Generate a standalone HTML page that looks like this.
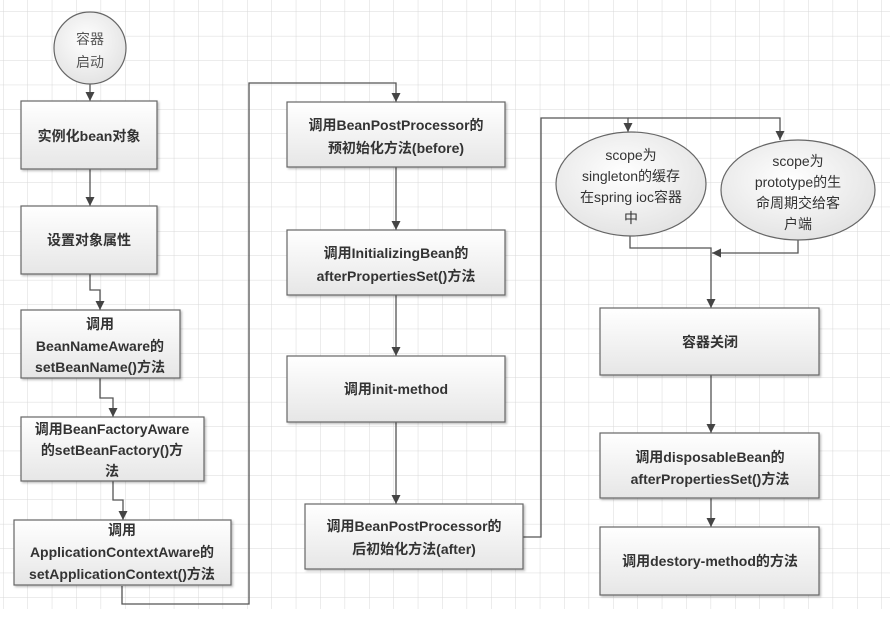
<!DOCTYPE html>
<html><head><meta charset="utf-8"><style>
html,body{margin:0;padding:0;background:#fff;}
svg text{font-family:"Liberation Sans","Noto Sans CJK SC",sans-serif;font-size:14px;font-weight:bold;fill:#333;text-anchor:middle;}
</style></head><body>
<svg width="890" height="619" viewBox="0 0 890 619" xmlns="http://www.w3.org/2000/svg">
<defs>
<pattern id="g" x="3" y="11.5" width="24.4" height="24.4" patternUnits="userSpaceOnUse">
<path d="M0 0 H24.4 M0 0 V24.4" stroke="#d8d8d8" stroke-width="1" fill="none"/>
</pattern>
<linearGradient id="bg" x1="0" y1="0" x2="0" y2="1"><stop offset="0" stop-color="#ffffff"/><stop offset="1" stop-color="#e6e6e6"/></linearGradient>
<radialGradient id="rg" cx="0.45" cy="0.4" r="0.6"><stop offset="0" stop-color="#ffffff"/><stop offset="1" stop-color="#e4e4e4"/></radialGradient>
<marker id="a" viewBox="0 0 10 10" refX="10" refY="5" markerWidth="9" markerHeight="9" orient="auto" markerUnits="userSpaceOnUse"><path d="M0 0 L10 5 L0 10 z" fill="#444"/></marker>
<filter id="sh" x="-5%" y="-5%" width="115%" height="120%"><feDropShadow dx="1.5" dy="1.5" stdDeviation="1" flood-color="#000" flood-opacity="0.25"/></filter>
</defs>
<rect x="0" y="0" width="890" height="609" fill="url(#g)"/>
<g stroke="#555" stroke-width="1.3" fill="none">
<path d="M90 84 V101" marker-end="url(#a)"/>
<path d="M90 169 V206" marker-end="url(#a)"/>
<path d="M90 274 V290 H100 V310" marker-end="url(#a)"/>
<path d="M100 378 V398 H113 V417" marker-end="url(#a)"/>
<path d="M113 481 V500 H123 V520" marker-end="url(#a)"/>
<path d="M122 586 V604 H249 V83 H396 V102" marker-end="url(#a)"/>
<path d="M396 167 V230" marker-end="url(#a)"/>
<path d="M396 295 V356" marker-end="url(#a)"/>
<path d="M396 422 V504" marker-end="url(#a)"/>
<path d="M523 537 H541 V118 H628 V132" marker-end="url(#a)"/>
<path d="M628 118 H780 V140" marker-end="url(#a)"/>
<path d="M630 236 V248 H711 V308" marker-end="url(#a)"/>
<path d="M798 240 V253 H712" marker-end="url(#a)"/>
<path d="M711 375 V433" marker-end="url(#a)"/>
<path d="M711 498 V527" marker-end="url(#a)"/>
</g>
<g stroke="#666" stroke-width="1.2" fill="url(#bg)" filter="url(#sh)">
<rect x="21" y="101" width="136" height="68"/>
<rect x="21" y="206" width="136" height="68"/>
<rect x="21" y="310" width="159" height="68"/>
<rect x="21" y="417" width="183" height="64"/>
<rect x="14" y="520" width="217" height="65"/>
<rect x="287" y="102" width="218" height="65"/>
<rect x="287" y="230" width="218" height="65"/>
<rect x="287" y="356" width="218" height="66"/>
<rect x="305" y="504" width="218" height="65"/>
<rect x="600" y="308" width="219" height="67"/>
<rect x="600" y="433" width="219" height="65"/>
<rect x="600" y="527" width="219" height="68"/>
</g>
<g stroke="#666" stroke-width="1.2" fill="url(#rg)">
<circle cx="90" cy="48" r="36"/>
<ellipse cx="631" cy="184" rx="75" ry="52"/>
<ellipse cx="798" cy="190" rx="77" ry="50"/>
</g>
<text x="90" y="44" style="font-weight:normal;fill:#555">容器</text>
<text x="90" y="67" style="font-weight:normal;fill:#555">启动</text>
<text x="89" y="141">实例化bean对象</text>
<text x="89" y="245">设置对象属性</text>
<text x="100" y="329">调用</text>
<text x="100" y="351">BeanNameAware的</text>
<text x="100" y="372">setBeanName()方法</text>
<text x="112" y="434">调用BeanFactoryAware</text>
<text x="112" y="455">的setBeanFactory()方</text>
<text x="112" y="476">法</text>
<text x="122" y="535">调用</text>
<text x="122" y="557">ApplicationContextAware的</text>
<text x="122" y="579">setApplicationContext()方法</text>
<text x="396" y="130">调用BeanPostProcessor的</text>
<text x="396" y="153">预初始化方法(before)</text>
<text x="396" y="258">调用InitializingBean的</text>
<text x="396" y="281">afterPropertiesSet()方法</text>
<text x="396" y="394">调用init-method</text>
<text x="414" y="531">调用BeanPostProcessor的</text>
<text x="414" y="554">后初始化方法(after)</text>
<text x="631" y="160" style="font-weight:normal">scope为</text>
<text x="631" y="181" style="font-weight:normal">singleton的缓存</text>
<text x="631" y="202" style="font-weight:normal">在spring ioc容器</text>
<text x="631" y="223" style="font-weight:normal">中</text>
<text x="798" y="166" style="font-weight:normal">scope为</text>
<text x="798" y="187" style="font-weight:normal">prototype的生</text>
<text x="798" y="208" style="font-weight:normal">命周期交给客</text>
<text x="798" y="229" style="font-weight:normal">户端</text>
<text x="710" y="347">容器关闭</text>
<text x="710" y="462">调用disposableBean的</text>
<text x="710" y="484">afterPropertiesSet()方法</text>
<text x="710" y="566">调用destory-method的方法</text>
</svg>
</body></html>
